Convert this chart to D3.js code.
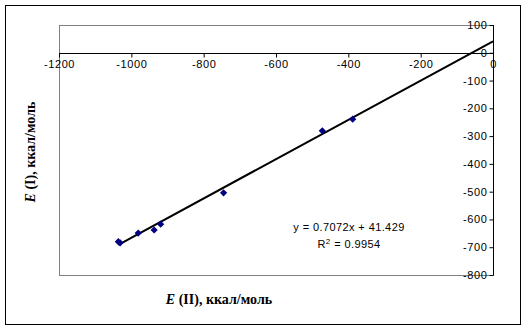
<!DOCTYPE html>
<html><head><meta charset="utf-8">
<script src="https://cdn.jsdelivr.net/npm/d3@7"></script>
<style>body{margin:0;background:#fff}svg{display:block}</style>
</head><body>
<svg id="c" width="525" height="329"></svg>
<script>
const xValues = [-1036, -1031, -981, -937, -919, -745, -472, -388];
const yValues = [-680, -684, -649, -638, -617, -504, -281, -239];
const xTicks = [-1200, -1000, -800, -600, -400, -200, 0];
const yTicks = [100, 0, -100, -200, -300, -400, -500, -600, -700, -800];
const slope = 0.7072, intercept = 41.429;
const eqText = "y = 0.7072x + 41.429";
const r2Text = "0.9954";

const svg = d3.select("#c");
const L = 59, R = 493, T = 25, B = 275;
const x = d3.scaleLinear().domain([-1200, 0]).range([L, R]);
const y = d3.scaleLinear().domain([-800, 100]).range([B, T]);

svg.append("rect").attr("x", 5.5).attr("y", 5.5).attr("width", 515).attr("height", 319)
  .attr("fill", "#fff").attr("stroke", "#000").attr("stroke-width", 1);
svg.append("rect").attr("x", L + 0.5).attr("y", T + 0.5).attr("width", R - L).attr("height", B - T)
  .attr("fill", "none").attr("stroke", "#808080").attr("stroke-width", 1);

const font = "Arial, 'Liberation Sans', sans-serif";
const xa = svg.append("g").attr("transform", `translate(0,${Math.round(y(0)) + 0.5})`)
  .call(d3.axisBottom(x).tickValues(xTicks).tickSize(4).tickPadding(3).tickFormat(d3.format("d")));
const ya = svg.append("g").attr("transform", `translate(${R + 0.5},0)`)
  .call(d3.axisLeft(y).tickValues(yTicks).tickSize(4).tickPadding(2).tickFormat(d3.format("d")));
[xa, ya].forEach(g => {
  g.select(".domain").attr("stroke", "#000");
  g.selectAll(".tick line").attr("stroke", "#000");
  g.selectAll("text").attr("fill", "#000").style("font-family", font).style("font-size", "11px")
    .style("letter-spacing", "0.6px").text(d => String(d).replace("-", "-"));
});
xa.select(".domain").attr("d", `M${L},0H${R}`);
ya.select(".domain").attr("d", `M0,${T}V${B}`);

const x0 = d3.min(xValues), x1 = 0;
svg.append("line").attr("x1", x(x0)).attr("y1", y(slope * x0 + intercept))
  .attr("x2", x(x1)).attr("y2", y(slope * x1 + intercept))
  .attr("stroke", "#000").attr("stroke-width", 2);

const squareDiamond = {
  draw(ctx, size) {
    const r = Math.sqrt(size / 2);
    ctx.moveTo(0, -r); ctx.lineTo(r, 0); ctx.lineTo(0, r); ctx.lineTo(-r, 0); ctx.closePath();
  }
};
svg.append("g").selectAll("path").data(xValues).join("path")
  .attr("d", d3.symbol(squareDiamond, 26))
  .attr("transform", (d, i) => `translate(${x(d)},${y(yValues[i])})`)
  .attr("fill", "#000080");

const eq = svg.append("text").attr("x", 349).attr("y", 231).attr("text-anchor", "middle")
  .style("font-family", font).style("font-size", "11px").style("letter-spacing", "0.4px").text(eqText);
const r2 = svg.append("text").attr("x", 349).attr("y", 248).attr("text-anchor", "middle")
  .style("font-family", font).style("font-size", "11px").style("letter-spacing", "0.4px");
r2.append("tspan").text("R");
r2.append("tspan").attr("dy", -4).style("font-size", "8px").text("2");
r2.append("tspan").attr("dy", 4).text(" = " + r2Text);

const serif = "'Times New Roman', 'Liberation Serif', serif";
const xt = svg.append("text").attr("x", 219).attr("y", 304).attr("text-anchor", "middle")
  .style("font-family", serif).style("font-size", "14px").style("font-weight", "bold");
xt.append("tspan").style("font-style", "italic").text("E");
xt.append("tspan").text(" (II), ккал/моль");
const yt = svg.append("text").attr("transform", "translate(35,152) rotate(-90)").attr("text-anchor", "middle")
  .style("font-family", serif).style("font-size", "14px").style("font-weight", "bold");
yt.append("tspan").style("font-style", "italic").text("E");
yt.append("tspan").text(" (I), ккал/моль");
</script>
</body></html>
